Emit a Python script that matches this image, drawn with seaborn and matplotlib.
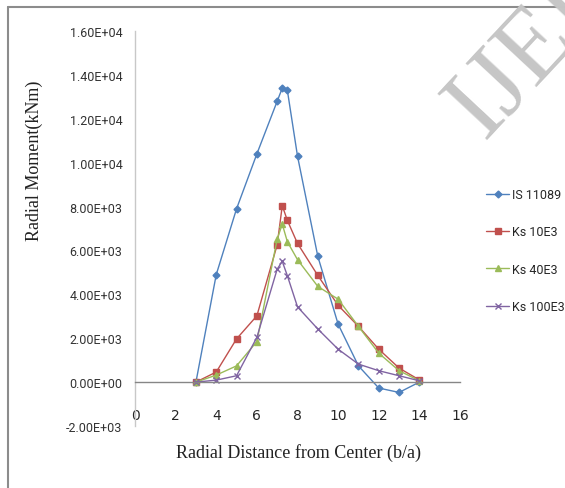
import numpy as np
import pandas as pd
import matplotlib
matplotlib.use("Agg")
import matplotlib.pyplot as plt
from matplotlib.lines import Line2D
import seaborn as sns

# ---- data ----
radial_distance = [3, 4, 5, 6, 7, 7.25, 7.5, 8, 9, 10, 11, 12, 13, 14]
is_11089 = [0, 4900, 7900, 10400, 12800, 13400, 13300, 10300, 5730, 2640, 740, -270, -470, 0]
ks_10e3 = [0, 460, 1970, 3020, 6260, 8040, 7370, 6320, 4860, 3500, 2540, 1500, 640, 100]
ks_40e3 = [0, 320, 740, 1850, 6520, 7200, 6400, 5580, 4360, 3780, 2540, 1320, 520, 60]
ks_100e3 = [0, 90, 290, 2040, 5150, 5500, 4850, 3430, 2420, 1500, 820, 520, 290, 60]
series_names = ["IS 11089", "Ks 10E3", "Ks 40E3", "Ks 100E3"]
x_ticks = [0, 2, 4, 6, 8, 10, 12, 14, 16]
y_ticks = [-2000, 0, 2000, 4000, 6000, 8000, 10000, 12000, 14000, 16000]
x_label = "Radial Distance from Center (b/a)"
y_label = "Radial Moment(kNm)"
watermark = "IJERT"

frames = []
for name, vals in zip(series_names, [is_11089, ks_10e3, ks_40e3, ks_100e3]):
    frames.append(pd.DataFrame({"x": radial_distance, "y": vals, "series": name}))
df = pd.concat(frames, ignore_index=True)

palette = {"IS 11089": "#4F81BD", "Ks 10E3": "#C0504D",
           "Ks 40E3": "#9BBB59", "Ks 100E3": "#8064A2"}
markers = {"IS 11089": "D", "Ks 10E3": "s", "Ks 40E3": "^", "Ks 100E3": "x"}
msizes = {"IS 11089": 3.5, "Ks 10E3": 5, "Ks 40E3": 5, "Ks 100E3": 5}

sns.set_style("white")
tick_font = ["Liberation Sans Narrow", "Roboto", "DejaVu Sans"]
serif_font = ["Liberation Serif", "DejaVu Serif"]

W, H = 565, 489
fig = plt.figure(figsize=(W / 100, H / 100), dpi=100)
ax = fig.add_axes([135 / W, 1 - 427 / H, 325 / W, 395 / H])

for name in series_names:
    c = palette[name]
    sns.lineplot(data=df[df["series"] == name], x="x", y="y",
                 color=c, marker=markers[name], markersize=msizes[name],
                 markeredgecolor=c, markerfacecolor=c, markeredgewidth=1.0,
                 estimator=None, sort=False, linewidth=1.0, label=name, ax=ax)

handles, labels = ax.get_legend_handles_labels()
if ax.get_legend() is not None:
    ax.get_legend().remove()

ax.set_xlim(0, 16)
ax.set_ylim(-2000, 16000)
ax.set_xticks(x_ticks)
ax.set_yticks(y_ticks)
ax.set_xticklabels([str(v) for v in x_ticks], fontsize=9.5, family=tick_font, color="#333333")
ax.set_yticklabels([f"{v:.2E}" for v in y_ticks], fontsize=9, family=tick_font, color="#333333")
ax.tick_params(axis="both", length=0)
ax.tick_params(axis="x", pad=19)
ax.tick_params(axis="y", pad=9)

for s in ["top", "right"]:
    ax.spines[s].set_visible(False)
ax.spines["bottom"].set_position(("data", 0))
ax.spines["bottom"].set_color("#868686")
ax.spines["bottom"].set_linewidth(1.0)
ax.spines["left"].set_color("#c8c8c8")
ax.spines["left"].set_linewidth(1.0)
ax.grid(False)

ax.set_xlabel(x_label, fontsize=13, family=serif_font, color="#222222")
ax.set_ylabel(y_label, fontsize=13, family=serif_font, color="#222222")
ax.xaxis.set_label_coords((298 - 135) / 325, (427 - 453) / 395)
ax.xaxis.label.set_va("center")
ax.yaxis.set_label_coords((34 - 135) / 325, (427 - 161) / 395)
ax.yaxis.label.set_va("center")

fig.legend(handles, labels, loc="upper left",
           bbox_to_anchor=(486 / W, 1 - 189 / H), frameon=False,
           prop={"family": tick_font, "size": 9},
           labelspacing=1.95, handlelength=1.85, handletextpad=0.2,
           borderpad=0, borderaxespad=0)

# page border (left and top)
fig.add_artist(Line2D([8 / W, 8 / W], [0, 1 - 8 / H], transform=fig.transFigure,
                      color="#8c8c8c", linewidth=1.5))
fig.add_artist(Line2D([8 / W, 1], [1 - 8 / H, 1 - 8 / H], transform=fig.transFigure,
                      color="#8c8c8c", linewidth=1.5))

fig.text(484 / W, 1 - 140 / H, watermark, rotation=47, rotation_mode="anchor",
         ha="left", va="baseline", fontsize=74, family=serif_font,
         color="#c6c6c6", zorder=10)

fig.savefig("out.png", dpi=100)
